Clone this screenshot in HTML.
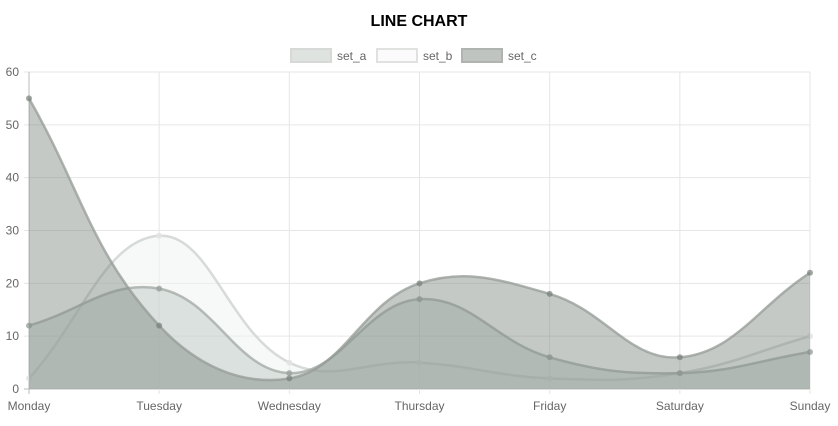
<!DOCTYPE html>
<html><head><meta charset="utf-8"><style>
body{margin:0;background:#fff;font-family:"Liberation Sans",Arial,sans-serif}
svg text{font-family:"Liberation Sans",Arial,sans-serif}
</style></head><body>
<svg id="c" width="838" height="421" xmlns="http://www.w3.org/2000/svg">
<text x="419" y="26" text-anchor="middle" font-size="16" font-weight="bold" fill="#000">LINE CHART</text>
<g>
<g><rect x="291" y="49" width="40" height="13" fill="rgba(200,208,203,0.6)" stroke="#d6d9d7" stroke-width="2"/><text x="337" y="60" font-size="12" fill="#666">set_a</text></g>
<g><rect x="377" y="49" width="40" height="13" fill="#fafbfa" stroke="#e0e2e0" stroke-width="2"/><text x="423" y="60" font-size="12" fill="#666">set_b</text></g>
<g><rect x="462" y="49" width="40" height="13" fill="#c0c4c0" stroke="#b0b4b0" stroke-width="2"/><text x="508" y="60" font-size="12" fill="#666">set_c</text></g>
</g>
<g id="grid"></g>
<g id="series"></g>
<g id="axes"></g>
</svg>
<script>
const categories=["Monday","Tuesday","Wednesday","Thursday","Friday","Saturday","Sunday"];
const setA=[12,19,3,17,6,3,7];
const setB=[2,29,5,5,2,3,10];
const setC=[55,12,2,20,18,6,22];
const yTicks=[0,10,20,30,40,50,60];
const NS="http://www.w3.org/2000/svg";
const L=29,R=810,T=72,B=389,yMax=60;
const xs=i=>L+i*(R-L)/(categories.length-1);
const ys=v=>B-v/yMax*(B-T);
function mk(tag,attrs,parent){const e=document.createElementNS(NS,tag);for(const k in attrs)e.setAttribute(k,attrs[k]);parent.appendChild(e);return e;}
const grid=document.getElementById('grid'),axes=document.getElementById('axes'),series=document.getElementById('series');
yTicks.forEach(t=>{
  const l=mk('line',{x1:L-5,x2:R,y1:ys(t),y2:ys(t),stroke:t===0?'#bbb':'#e6e6e6'},grid);
  
  
  const tx=mk('text',{x:L-10,y:ys(t)+4,'text-anchor':'end','font-size':12,fill:'#666'},axes);
  tx.textContent=t;
  
  
});
categories.forEach((c,i)=>{
  const l=mk('line',{x1:xs(i),x2:xs(i),y1:T,y2:B+5,stroke:i===0?'#bbb':'#e6e6e6'},grid);
  
  
  const tx=mk('text',{x:xs(i),y:B+21,'text-anchor':'middle','font-size':12,fill:'#666'},axes);
  tx.textContent=c;
  
  
});
function pathD(vals){
  const p=vals.map((v,i)=>({x:xs(i),y:ys(v)}));const t=0.4;
  const cps=p.map((cur,i)=>{const pr=p[i-1]||cur,nx=p[i+1]||cur;
    const d01=Math.hypot(cur.x-pr.x,cur.y-pr.y),d12=Math.hypot(nx.x-cur.x,nx.y-cur.y);
    const s=d01+d12||1,fa=t*d01/s,fb=t*d12/s;
    return{px:cur.x-fa*(nx.x-pr.x),py:cur.y-fa*(nx.y-pr.y),nx:cur.x+fb*(nx.x-pr.x),ny:cur.y+fb*(nx.y-pr.y)};});
  let d=`M${p[0].x},${p[0].y}`;
  for(let i=1;i<p.length;i++){const cp=Math.min(Math.max(cps[i-1].ny,T),B),cq=Math.min(Math.max(cps[i].py,T),B);d+=` C${cps[i-1].nx},${cp} ${cps[i].px},${cq} ${p[i].x},${p[i].y}`;}
  return d;
}
const sets=[
 {name:'set-b',vals:setB,fill:'rgba(240,244,242,0.5)',stroke:'rgba(210,214,212,0.9)',pt:'rgba(225,228,226,0.9)'},
 {name:'set-a',vals:setA,fill:'rgba(185,196,190,0.45)',stroke:'rgba(165,172,168,0.8)',pt:'rgba(155,162,158,0.8)'},
 {name:'set-c',vals:setC,fill:'rgba(125,135,127,0.45)',stroke:'rgba(150,155,150,0.75)',pt:'rgba(120,128,122,0.7)'}
];
sets.forEach(s=>{
  const d=pathD(s.vals);
  const a=mk('path',{d:d+` L${xs(s.vals.length-1)},${B} L${xs(0)},${B} Z`,fill:s.fill,stroke:'none'},series);
  
  
  const ln=mk('path',{d:d,fill:'none',stroke:s.stroke,'stroke-width':2.5},series);
  
  
  s.vals.forEach((v,i)=>{
    const c=mk('circle',{cx:xs(i),cy:ys(v),r:3,fill:s.pt,stroke:'none'},series);
    
    
  });
});
</script>
</body></html>
